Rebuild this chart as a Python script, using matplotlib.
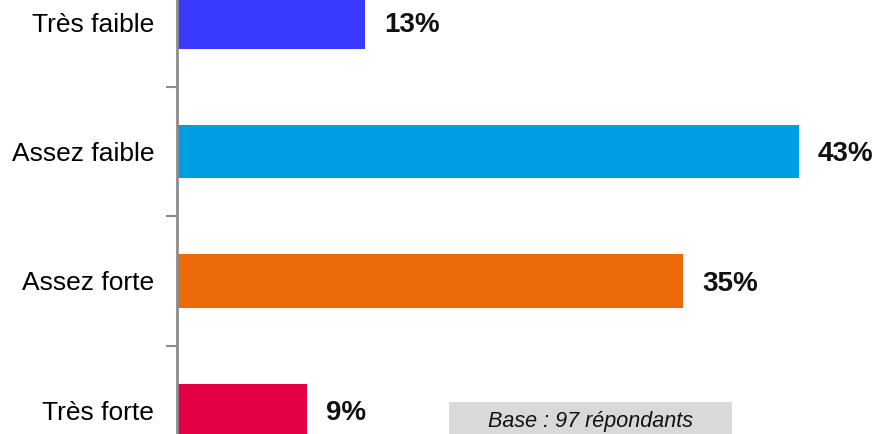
import matplotlib
matplotlib.use('Agg')

import matplotlib.pyplot as plt
from matplotlib.patches import Rectangle

categories = ['Très faible', 'Assez faible', 'Assez forte', 'Très forte']
values = [13, 43, 35, 9]
labels = ['13%', '43%', '35%', '9%']
colors = ['#3A3AFF', '#009FE3', '#EC6A08', '#E50046']
base_note = 'Base : 97 répondants'

plt.rcParams['font.family'] = ['Liberation Sans', 'DejaVu Sans']

W, H = 879, 434
fig = plt.figure(figsize=(W / 100, H / 100), dpi=100)

# axes placed in pixels: category centres at 22 + 129.5*i, x=0 at 177 px, 1% = 14.465 px
x0 = 177
px_per_unit = 14.465
step = 129.5
top_px = 22 - step / 2
bottom_px = 22 + step * 3.5
ax = fig.add_axes([x0 / W, 1 - bottom_px / H, (W - x0) / W, (bottom_px - top_px) / H])

pos = list(range(len(categories)))
ax.barh(pos, values, height=0.41, color=colors, edgecolor='none')
ax.set_xlim(0, (W - x0) / px_per_unit)
ax.set_ylim(3.5, -0.5)

for p, v, lab in zip(pos, values, labels):
    ax.text(v + 19 / px_per_unit, p + 0.02, lab, va='center', ha='left',
            fontsize=20, fontweight='bold', color='#111111')

ax.set_yticks(pos, categories)
ax.set_yticks([0.5, 1.5, 2.5], minor=True)
ax.tick_params(axis='y', which='major', length=0, pad=16.5, labelsize=19)
ax.tick_params(axis='y', which='minor', length=8, width=1.5, color='#8c8c8c')
ax.set_xticks([])

for s in ['top', 'right', 'bottom']:
    ax.spines[s].set_visible(False)
ax.spines['left'].set_color('#8c8c8c')
ax.spines['left'].set_linewidth(2)

# base note box at the bottom
fig.patches.append(Rectangle((449 / W, 0), 283 / W, 32 / H, transform=fig.transFigure,
                             facecolor='#d9d9d9', edgecolor='none', zorder=0))
fig.text(590.5 / W, 7 / H, base_note, ha='center', va='baseline',
         fontsize=15.5, style='italic', color='#111111')

fig.savefig('out.png', dpi=100)
